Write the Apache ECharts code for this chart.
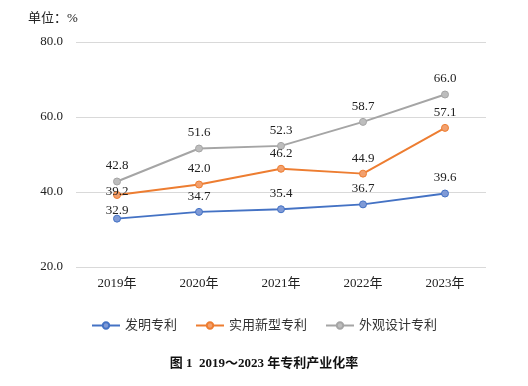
<!DOCTYPE html>
<html><head><meta charset="utf-8">
<script src="https://cdn.jsdelivr.net/npm/echarts@6/dist/echarts.min.js"></script>
<style>html,body{margin:0;padding:0;background:#fff}#c{width:528px;height:386px}</style>
</head><body><div id="c"></div>
<script>
const categories = ['2019年','2020年','2021年','2022年','2023年'];
const seriesNames = ['发明专利','实用新型专利','外观设计专利'];
const invention = [32.9, 34.7, 35.4, 36.7, 39.6];
const utility = [39.2, 42.0, 46.2, 44.9, 57.1];
const design = [42.8, 51.6, 52.3, 58.7, 66.0];
const colors = ['#4472C4','#ED7D31','#A5A5A5'];
const fills = ['#7f9ad6','#f2a06e','#bdbdbd'];
const serif = '"Liberation Serif","Times New Roman","Noto Sans CJK SC",serif';

function mk(name, data, i, offsets){
  return {
    name, type:'line', data: data.map((v,k)=>{
      const o = {value:v};
      if(offsets && offsets[k]) o.label = {offset: offsets[k]};
      return o;
    }),
    symbol:'circle', symbolSize:7,
    lineStyle:{color:colors[i], width:2},
    itemStyle:{color:fills[i], borderColor:colors[i], borderWidth:1},
    label:{show:true, position:'top', formatter: p=>p.value.toFixed(1),
      fontFamily:serif, fontSize:13, color:'#222'},
    emphasis:{disabled:true}, animation:false
  };
}
const chart = echarts.init(document.getElementById('c'));
chart.setOption({
  animation:false,
  color: colors,
  grid:{left:76, right:42, top:42, bottom:119},
  graphic:[
    {type:'text', left:28, top:12, style:{text:'单位：%', font:'13px '+serif, fill:'#222'}},
    {type:'text', left:'center', top:357, style:{text:'图 1  2019～2023 年专利产业化率', font:'bold 13px '+serif, fill:'#111'}}
  ],
  legend:{bottom:49, left:'center', itemWidth:28, itemHeight:8, itemGap:18,
    textStyle:{fontFamily:serif, fontSize:13, color:'#333'},
    data:seriesNames},
  xAxis:{type:'category', data:categories, boundaryGap:true,
    axisLine:{show:false}, axisTick:{show:false},
    axisLabel:{fontFamily:serif, fontSize:13, color:'#222', margin:10}},
  yAxis:{type:'value', min:20, max:80, interval:20,
    axisLine:{show:false}, axisTick:{show:false},
    splitLine:{lineStyle:{color:'#d9d9d9', width:1}},
    axisLabel:{fontFamily:serif, fontSize:13, color:'#222', margin:13, formatter:v=>v.toFixed(1)}},
  series:[
    mk(seriesNames[0], invention, 0, [[0,7]]),
    mk(seriesNames[1], utility, 1, [[0,12]]),
    mk(seriesNames[2], design, 2)
  ]
});
</script></body></html>
